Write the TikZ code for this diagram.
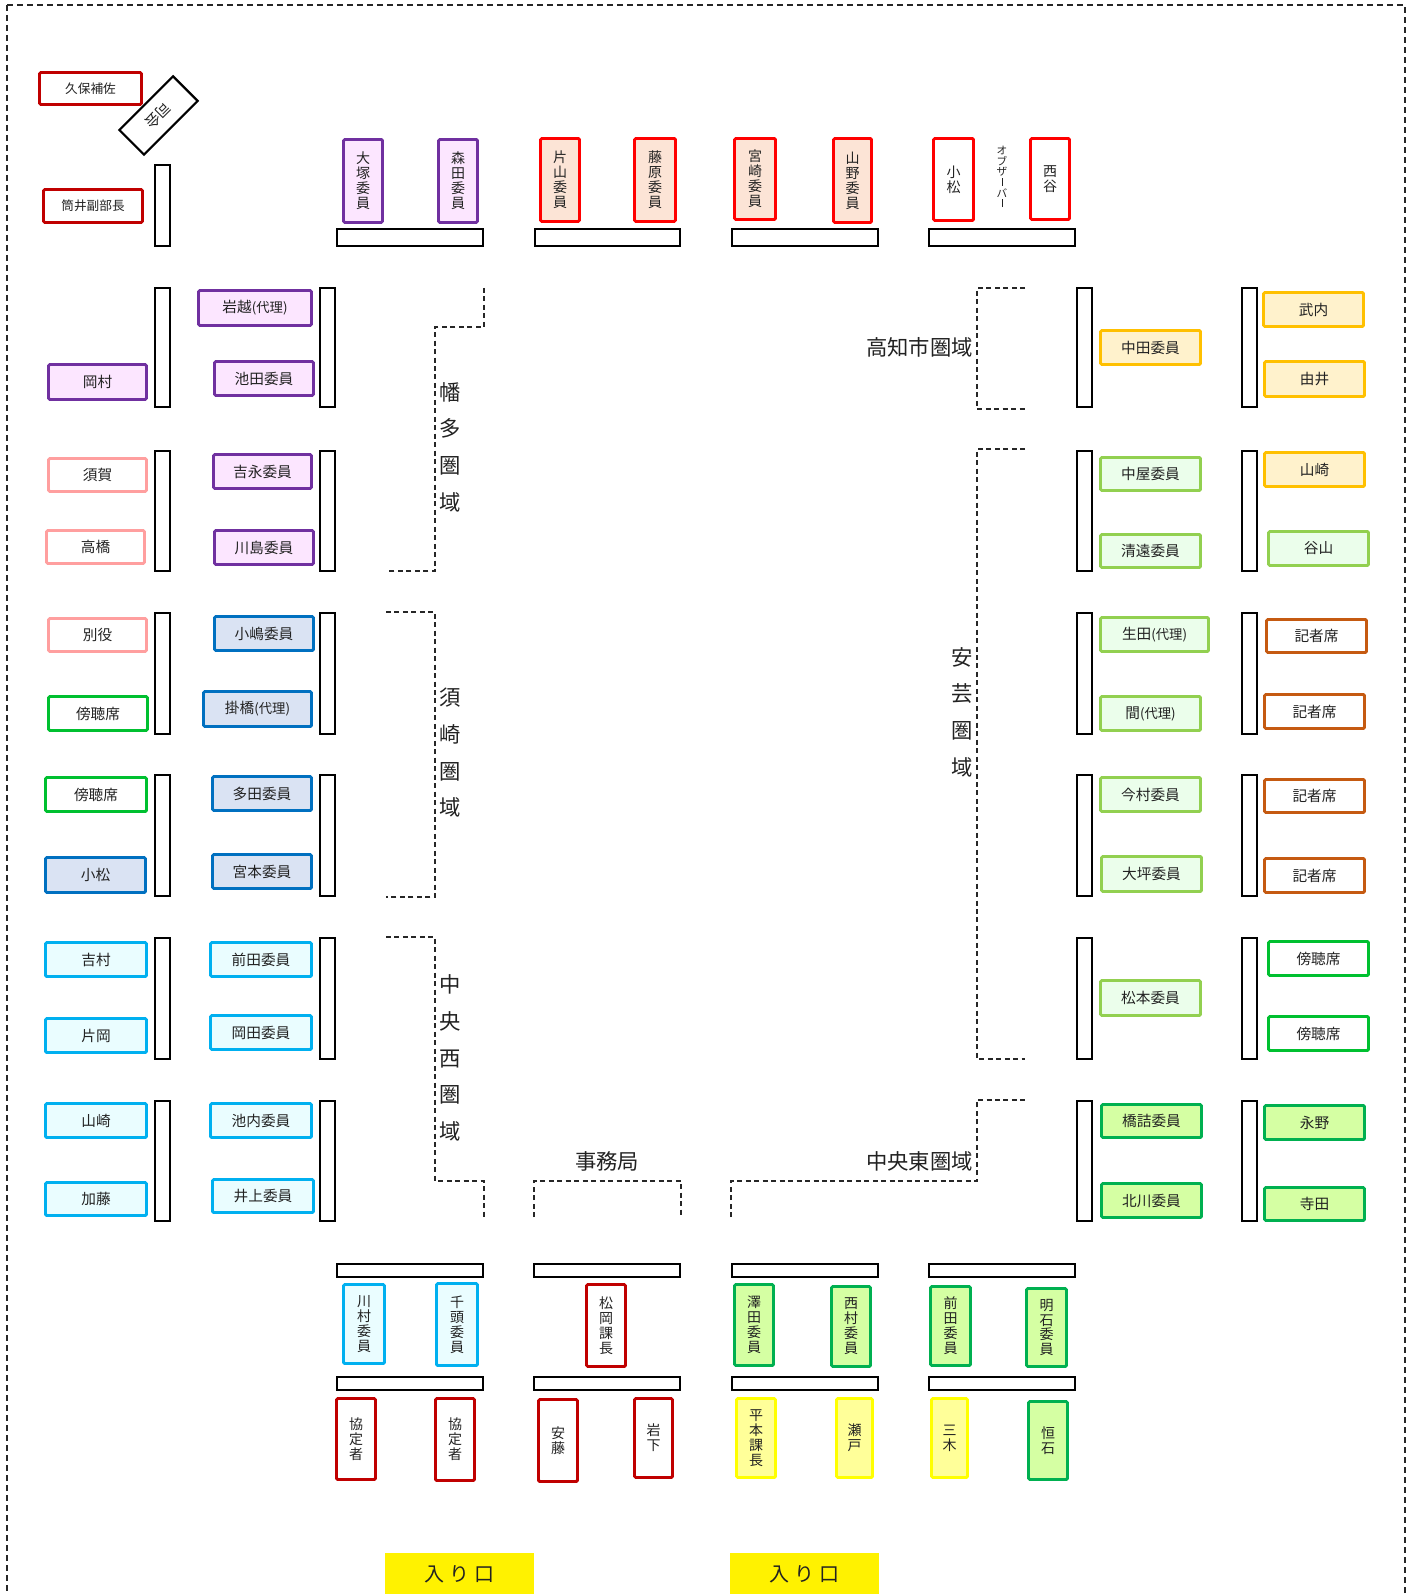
\documentclass[tikz,border=0pt]{standalone}
\usepackage{fontspec}
\setmainfont{Noto Sans CJK JP}
\definecolor{cPur}{HTML}{7030A0}\definecolor{fPur}{HTML}{FCE6FF}
\definecolor{cRed}{HTML}{FF0000}\definecolor{fPeach}{HTML}{FCE4D6}
\definecolor{cDRed}{HTML}{C00000}
\definecolor{cPink}{HTML}{FF9F9F}
\definecolor{cGrn}{HTML}{00C030}
\definecolor{cBlue}{HTML}{0070C0}\definecolor{fBlue}{HTML}{DAE3F3}
\definecolor{cCyan}{HTML}{00B0F0}\definecolor{fCyan}{HTML}{EAFDFF}
\definecolor{cOrg}{HTML}{FFC000}\definecolor{fOrg}{HTML}{FFF2CC}
\definecolor{cLGrn}{HTML}{92D050}\definecolor{fLGrn}{HTML}{EBFEEB}
\definecolor{cDOrg}{HTML}{C55A11}
\definecolor{cLime}{HTML}{00B050}\definecolor{fLime}{HTML}{D5FFA3}
\definecolor{cYel}{HTML}{FFFF00}\definecolor{fYel}{HTML}{FFFF99}
\definecolor{txt}{HTML}{222222}
\newcommand\seat[7]{\node[#2,minimum width={(#5-#3-3)*0.75pt},minimum height={(#6-#4-3)*0.75pt}] (#1) at ({(#3+#5)/2},{(#4+#6)/2}) {#7};}
\newcommand\desk[5]{\node[deskbar,minimum width={(#4-#2-2)*0.75pt},minimum height={(#5-#3-2)*0.75pt}] (#1) at ({(#2+#4)/2},{(#3+#5)/2}) {};}
\newcommand\dairi{{\fontsize{10}{10}\selectfont(代理)}}
\newcommand\vbar{\rule[0.5pt]{0.5pt}{6pt}}
\begin{document}
\begin{tikzpicture}[x=0.75pt,y=-0.75pt,
  seatbase/.style={draw,line width=2.2pt,inner sep=0pt,rounded corners=1pt,align=center,text=txt,font=\fontsize{11}{11.5}\selectfont},
  vtext/.style={font=\fontsize{10.5}{11.2}\selectfont},
  smalltext/.style={font=\fontsize{9.5}{10}\selectfont},
  pur/.style={seatbase,draw=cPur,fill=fPur},
  red/.style={seatbase,draw=cRed,fill=fPeach},
  redw/.style={seatbase,draw=cRed,fill=white},
  dred/.style={seatbase,draw=cDRed,fill=white},
  pink/.style={seatbase,draw=cPink,fill=white},
  grn/.style={seatbase,draw=cGrn,fill=white},
  blu/.style={seatbase,draw=cBlue,fill=fBlue},
  cya/.style={seatbase,draw=cCyan,fill=fCyan},
  org/.style={seatbase,draw=cOrg,fill=fOrg},
  lgr/.style={seatbase,draw=cLGrn,fill=fLGrn},
  dorg/.style={seatbase,draw=cDOrg,fill=white},
  lime/.style={seatbase,draw=cLime,fill=fLime},
  yel/.style={seatbase,draw=cYel,fill=fYel},
  deskbar/.style={draw=black,line width=1.6pt,fill=white,inner sep=0pt},
  regiondash/.style={draw=black!85,line width=1.1pt,dash pattern=on 3.75pt off 2.6pt},
  regionv/.style={font=\fontsize{16}{27.5}\selectfont,align=center,inner sep=0pt,text=txt},
  regionh/.style={font=\fontsize{16}{16}\selectfont,inner sep=0pt,text=txt},
  entry/.style={fill=yellow,inner sep=0pt,font=\fontsize{15}{15}\selectfont,text=txt}
]
\useasboundingbox (0,0) rectangle (1416,1594);
\fill[white] (0,0) rectangle (1416,1594);
\begin{scope}
\clip (0,0) rectangle (1416,1594);
\draw[black!85,line width=1.1pt,dash pattern=on 4.5pt off 3pt] (7,5) rectangle (1405,1620);
\end{scope}

% top-left
\seat{kubo}{dred,smalltext}{38}{71}{143}{106}{久保補佐}
\seat{tsutsui}{dred,smalltext}{42}{188}{144}{224}{筒井副部長}
\node[draw=black,line width=1.6pt,fill=white,inner sep=0pt,minimum width=57pt,minimum height=26pt,rotate=-135,font=\fontsize{11}{11}\selectfont,text=txt] (shikai) at (158.5,115.5) {司会};
\desk{bar0}{154}{164}{171}{247}

% top row
\seat{otsuka}{pur,vtext}{342}{138}{384}{224}{大\\塚\\委\\員}
\seat{morita}{pur,vtext}{437}{138}{479}{224}{森\\田\\委\\員}
\desk{barT1}{336}{228}{484}{247}
\seat{katayama}{red,vtext}{539}{137}{581}{223}{片\\山\\委\\員}
\seat{fujiwara}{red,vtext}{633}{137}{677}{223}{藤\\原\\委\\員}
\desk{barT2}{534}{228}{681}{247}
\seat{miyazaki}{red,vtext}{733}{137}{777}{221}{宮\\崎\\委\\員}
\seat{yamano}{red,vtext}{832}{137}{873}{224}{山\\野\\委\\員}
\desk{barT3}{731}{228}{879}{247}
\seat{komatsuT}{redw,vtext}{932}{137}{975}{222}{小\\松}
\seat{nishitani}{redw,vtext}{1029}{137}{1071}{221}{西\\谷}
\node[align=center,inner sep=0pt,font=\fontsize{8}{8}\selectfont,text=txt] (observer) at (1002,177) {オ\\ブ\\ザ\\\vbar\\バ\\\vbar};
\desk{barT4}{928}{228}{1076}{247}

% left side desks
\desk{bL1}{154}{287}{171}{408}\desk{bL2}{319}{287}{336}{408}
\desk{bL3}{154}{450}{171}{572}\desk{bL4}{319}{450}{336}{572}
\desk{bL5}{154}{612}{171}{735}\desk{bL6}{319}{612}{336}{735}
\desk{bL7}{154}{774}{171}{897}\desk{bL8}{319}{774}{336}{897}
\desk{bL9}{154}{937}{171}{1060}\desk{bL10}{319}{937}{336}{1060}
\desk{bL11}{154}{1100}{171}{1222}\desk{bL12}{319}{1100}{336}{1222}

\seat{iwakoshi}{pur}{197}{289}{313}{327}{岩越\dairi}
\seat{ikeda}{pur}{213}{360}{315}{397}{池田委員}
\seat{okamura}{pur}{47}{363}{148}{401}{岡村}
\seat{suga}{pink}{47}{457}{148}{493}{須賀}
\seat{takahashi}{pink}{45}{529}{146}{565}{高橋}
\seat{yoshinaga}{pur}{212}{453}{313}{490}{吉永委員}
\seat{kawashima}{pur}{213}{529}{315}{566}{川島委員}
\seat{beyaku}{pink}{47}{617}{148}{653}{別役}
\seat{bochoA}{grn}{47}{695}{149}{732}{傍聴席}
\seat{kojima}{blu}{213}{615}{315}{652}{小嶋委員}
\seat{kakehashi}{blu}{202}{690}{313}{728}{掛橋\dairi}
\seat{bochoB}{grn}{44}{776}{148}{813}{傍聴席}
\seat{komatsuL}{blu}{44}{856}{147}{894}{小松}
\seat{tada}{blu}{211}{775}{313}{812}{多田委員}
\seat{miyamoto}{blu}{211}{853}{313}{890}{宮本委員}
\seat{yoshimura}{cya}{44}{941}{148}{978}{吉村}
\seat{kataoka}{cya}{44}{1017}{148}{1054}{片岡}
\seat{maedaL}{cya}{209}{941}{313}{978}{前田委員}
\seat{okada}{cya}{209}{1014}{313}{1051}{岡田委員}
\seat{yamazakiL}{cya}{44}{1102}{148}{1139}{山崎}
\seat{kato}{cya}{44}{1181}{148}{1217}{加藤}
\seat{ikeuchi}{cya}{209}{1102}{313}{1139}{池内委員}
\seat{inoue}{cya}{211}{1178}{315}{1214}{井上委員}

% right side desks
\desk{bR1}{1076}{287}{1093}{408}\desk{bR2}{1241}{287}{1258}{408}
\desk{bR3}{1076}{450}{1093}{572}\desk{bR4}{1241}{450}{1258}{572}
\desk{bR5}{1076}{612}{1093}{735}\desk{bR6}{1241}{612}{1258}{735}
\desk{bR7}{1076}{774}{1093}{897}\desk{bR8}{1241}{774}{1258}{897}
\desk{bR9}{1076}{937}{1093}{1060}\desk{bR10}{1241}{937}{1258}{1060}
\desk{bR11}{1076}{1100}{1093}{1222}\desk{bR12}{1241}{1100}{1258}{1222}

\seat{nakata}{org}{1099}{329}{1202}{366}{中田委員}
\seat{takeuchi}{org}{1262}{291}{1365}{328}{武内}
\seat{yui}{org}{1263}{360}{1366}{398}{由井}
\seat{nakaya}{lgr}{1099}{456}{1202}{492}{中屋委員}
\seat{kiyoto}{lgr}{1099}{533}{1202}{569}{清遠委員}
\seat{yamazakiR}{org}{1263}{451}{1366}{488}{山崎}
\seat{taniyama}{lgr}{1267}{530}{1370}{567}{谷山}
\seat{ikuta}{lgr}{1099}{616}{1210}{653}{生田\dairi}
\seat{hazama}{lgr}{1099}{695}{1202}{732}{間\dairi}
\seat{kishaA}{dorg}{1265}{618}{1368}{654}{記者席}
\seat{kishaB}{dorg}{1263}{693}{1366}{730}{記者席}
\seat{imamura}{lgr}{1099}{776}{1202}{813}{今村委員}
\seat{otsubo}{lgr}{1100}{855}{1203}{893}{大坪委員}
\seat{kishaC}{dorg}{1263}{778}{1366}{814}{記者席}
\seat{kishaD}{dorg}{1263}{857}{1366}{894}{記者席}
\seat{matsumoto}{lgr}{1099}{979}{1202}{1017}{松本委員}
\seat{bochoC}{grn}{1267}{940}{1370}{977}{傍聴席}
\seat{bochoD}{grn}{1267}{1015}{1370}{1052}{傍聴席}
\seat{hashizume}{lime}{1100}{1103}{1203}{1139}{橋詰委員}
\seat{kitagawa}{lime}{1100}{1182}{1203}{1219}{北川委員}
\seat{nagano}{lime}{1263}{1104}{1366}{1141}{永野}
\seat{terada}{lime}{1263}{1186}{1366}{1222}{寺田}

% bottom
\desk{bB1}{336}{1263}{484}{1278}\desk{bB2}{533}{1263}{681}{1278}
\desk{bB3}{731}{1263}{879}{1278}\desk{bB4}{928}{1263}{1076}{1278}
\desk{bB5}{336}{1376}{484}{1391}\desk{bB6}{533}{1376}{681}{1391}
\desk{bB7}{731}{1376}{879}{1391}\desk{bB8}{928}{1376}{1076}{1391}
\seat{kawamura}{cya,vtext}{342}{1283}{386}{1365}{川\\村\\委\\員}
\seat{chikami}{cya,vtext}{435}{1282}{479}{1367}{千\\頭\\委\\員}
\seat{kyoteiA}{dred,vtext}{335}{1397}{377}{1481}{協\\定\\者}
\seat{kyoteiB}{dred,vtext}{434}{1397}{476}{1482}{協\\定\\者}
\seat{matsuoka}{dred,vtext}{585}{1283}{627}{1368}{松\\岡\\課\\長}
\seat{ando}{dred,vtext}{537}{1398}{579}{1483}{安\\藤}
\seat{iwashita}{dred,vtext}{633}{1397}{674}{1479}{岩\\下}
\seat{sawada}{lime,vtext}{733}{1283}{775}{1367}{澤\\田\\委\\員}
\seat{nishimura}{lime,vtext}{830}{1285}{872}{1368}{西\\村\\委\\員}
\seat{hiramoto}{yel,vtext}{735}{1397}{777}{1479}{平\\本\\課\\長}
\seat{seto}{yel,vtext}{835}{1397}{874}{1479}{瀬\\戸}
\seat{maedaB}{lime,vtext}{929}{1285}{972}{1367}{前\\田\\委\\員}
\seat{akashi}{lime,vtext}{1025}{1287}{1068}{1368}{明\\石\\委\\員}
\seat{miki}{yel,vtext}{930}{1397}{969}{1479}{三\\木}
\seat{tsuneishi}{lime,vtext}{1027}{1400}{1069}{1481}{恒\\石}

% region brackets
\draw[regiondash] (484,288) -- (484,327) -- (435,327) -- (435,571) -- (386,571);
\draw[regiondash] (386,612) -- (435,612) -- (435,897) -- (386,897);
\draw[regiondash] (386,937) -- (435,937) -- (435,1181) -- (484,1181) -- (484,1217);
\draw[regiondash] (534,1217) -- (534,1181) -- (681,1181) -- (681,1217);
\draw[regiondash] (731,1217) -- (731,1181) -- (977,1181) -- (977,1100) -- (1025,1100);
\draw[regiondash] (1025,449) -- (977,449) -- (977,1059) -- (1025,1059);
\draw[regiondash] (1025,288) -- (977,288) -- (977,409) -- (1025,409);

\node[regionv] (lHata) at (450,447) {幡\\多\\圏\\域};
\node[regionv] (lSusaki) at (450,753) {須\\崎\\圏\\域};
\node[regionv] (lChuoW) at (450,1058) {中\\央\\西\\圏\\域};
\node[regionv] (lAki) at (962,712) {安\\芸\\圏\\域};
\node[regionh,anchor=east] (lKochi) at (973,347) {高知市圏域};
\node[regionh,anchor=east] (lChuoE) at (973,1161) {中央東圏域};
\node[regionh] (lJimu) at (607,1161) {事務局};

% entrances
\node[entry,minimum width=111.75pt,minimum height=31pt] (entA) at (459.5,1574) {入\hspace{3.4pt}り\hspace{3.4pt}口};
\node[entry,minimum width=111.75pt,minimum height=31pt] (entB) at (804.5,1574) {入\hspace{3.4pt}り\hspace{3.4pt}口};
\end{tikzpicture}
\end{document}
